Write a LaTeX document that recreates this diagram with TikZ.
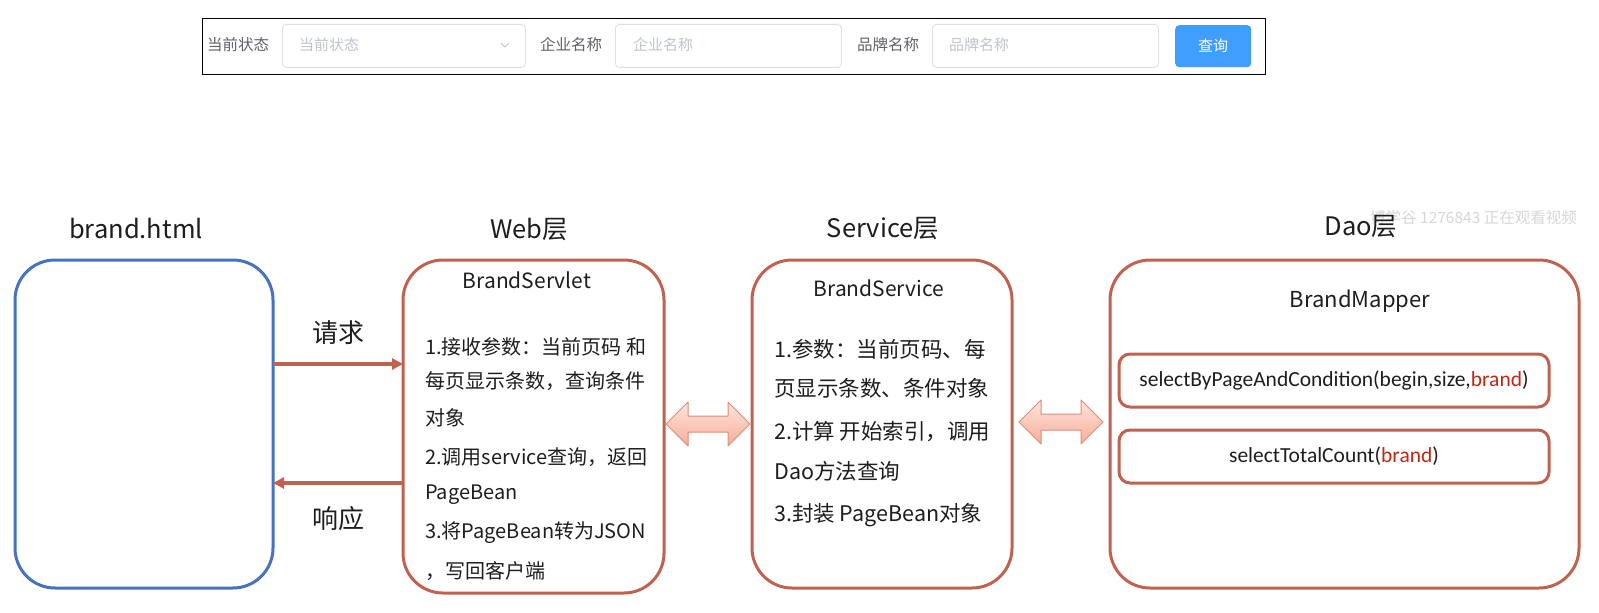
\documentclass[tikz,border=0pt]{standalone}
\usepackage{fontspec}
\setmainfont{Noto Sans CJK SC}
\newfontfamily\calibri{Carlito}
\usetikzlibrary{arrows.meta,calc}
\definecolor{boxred}{RGB}{192,98,80}
\definecolor{boxblue}{RGB}{70,114,190}
\definecolor{brandred}{RGB}{192,40,20}
\definecolor{lbl}{RGB}{96,98,102}
\definecolor{ph}{RGB}{192,196,204}
\definecolor{inborder}{RGB}{220,223,230}
\definecolor{btnblue}{RGB}{64,158,255}
\definecolor{arrfillA}{RGB}{255,230,222}
\definecolor{arrfillB}{RGB}{246,172,152}
\definecolor{arrline}{RGB}{222,140,120}
\definecolor{wm}{RGB}{215,215,215}
\definecolor{txt}{RGB}{30,30,30}
\newcommand{\fs}[1]{\fontsize{#1bp}{#1bp}\selectfont}
\begin{document}
\begin{tikzpicture}[x=1bp,y=-1bp,
  outerbox/.style={draw=boxred,line width=3bp,rounded corners=40bp,fill=white,minimum width=#1,anchor=north west,inner sep=0pt,outer sep=0pt},
  innerbox/.style={draw=boxred,line width=3bp,rounded corners=11bp,minimum width=430bp,minimum height=53bp,anchor=north west,inner sep=0pt,outer sep=0pt},
  title/.style={font=\fs{25.5},text=txt,inner sep=0pt},
  body/.style={font=\fs{20},text=txt,anchor=west,inner sep=0pt},
  sbody/.style={font=\fs{21.5},text=txt,anchor=west,inner sep=0pt},
  lab/.style={font=\fs{15.5},text=lbl,anchor=west,inner sep=0pt},
  phtext/.style={font=\fs{15},text=ph,anchor=west,inner sep=0pt},
  inputbox/.style={draw=inborder,line width=0.8bp,rounded corners=4bp,anchor=north west,minimum height=43bp,inner sep=0pt},
  conn/.style={draw=boxred,line width=3.5bp,-{Triangle[length=11bp,width=11bp]}},
  dblarrow/.style={draw=arrline,line width=1bp,top color=arrfillA,bottom color=arrfillB,line join=round},
  dbl/.pic={\path[dblarrow] (-42,0) -- ++(22,-22) -- ++(0,14) -- ++(40,0) -- ++(0,-14) -- ++(22,22) -- ++(-22,22) -- ++(0,-14) -- ++(-40,0) -- ++(0,14) -- cycle;}
]
\useasboundingbox (0,0) rectangle (1599,613);
\fill[white] (0,0) rectangle (1599,613);

% ---- search bar ----
\node[draw=black,line width=1.3bp,anchor=north west,minimum width=1063bp,minimum height=56bp,inner sep=0pt] (bar) at (202,18) {};
\node[lab] (l1) at (207,45) {当前状态};
\node[inputbox,minimum width=243bp] (in1) at (282,24) {};
\node[phtext] (p1) at (299,45) {当前状态};
\draw[draw=ph,line width=0.8bp] (501,43) -- (505,47) -- (509,43);
\node[lab] (l2) at (540,45) {企业名称};
\node[inputbox,minimum width=226bp] (in2) at (615,24) {};
\node[phtext] (p2) at (633,45) {企业名称};
\node[lab] (l3) at (857,45) {品牌名称};
\node[inputbox,minimum width=226bp] (in3) at (932,24) {};
\node[phtext] (p3) at (949,45) {品牌名称};
\node[fill=btnblue,rounded corners=4bp,anchor=north west,minimum width=76bp,minimum height=42bp,inner sep=0pt,text=white,font=\fs{15}] (btn) at (1175,25) {查询};

% ---- titles ----
\node[title] (t1) at (136,229) {brand.html};
\node[title] (t2) at (529,229) {Web层};
\node[title] (t3) at (883,229) {Service层};
\node[font=\fs{15.5},text=wm,anchor=west,inner sep=0pt] (wmk) at (1370,218) {博学谷 1276843 正在观看视频};
\node[title] (t4) at (1361,227) {Dao层};

% ---- boxes ----
\node[outerbox=258bp,draw=boxblue,minimum height=328bp] (html) at (15,260) {};
\node[outerbox=261bp,minimum height=333bp] (web) at (403,260) {};
\node[outerbox=260bp,minimum height=328bp] (svc) at (752,260) {};
\node[outerbox=469bp,minimum height=328bp] (dao) at (1110,260) {};

% ---- web text ----
\node[font=\fs{21},text=txt,inner sep=0pt] (servlet) at (527,280) {BrandServlet};
\node[body] (w1) at (425,347) {1.接收参数：当前页码 和};
\node[body] (w2) at (425,381) {每页显示条数，查询条件};
\node[body] (w3) at (425,418) {对象};
\node[body] (w4) at (425,457) {2.调用service查询，返回};
\node[body] (w5) at (425,495) {PageBean};
\node[body] (w6) at (425,533) {3.将PageBean转为JSON};
\node[body] (w7) at (425,571) {，写回客户端};

% ---- service text ----
\node[font=\fs{21},text=txt,inner sep=0pt] (bsvc) at (879,288) {BrandService};
\node[sbody] (s1) at (774,349) {1.参数：当前页码、每};
\node[sbody] (s2) at (774,388) {页显示条数、条件对象};
\node[sbody] (s3) at (774,432) {2.计算 开始索引，调用};
\node[sbody] (s4) at (774,471) {Dao方法查询};
\node[sbody] (s5) at (774,515) {3.封装 PageBean对象};

% ---- dao ----
\node[font=\fs{22},text=txt,inner sep=0pt] (mapper) at (1360,301) {BrandMapper};
\node[innerbox,font=\calibri\fs{21.5},text=txt] (m1) at (1119,354) {selectByPageAndCondition(begin,size,\textcolor{brandred}{brand})};
\node[innerbox,font=\calibri\fs{21.5},text=txt] (m2) at (1119,430) {selectTotalCount(\textcolor{brandred}{brand})};

% ---- connectors ----
\coordinate (reqy) at (0,364);
\coordinate (resy) at (0,483);
\draw[conn] (html.east |- reqy) -- (web.west |- reqy);
\draw[conn] (web.west |- resy) -- (html.east |- resy);
\node[font=\fs{26},text=txt,inner sep=0pt] (req) at (338,333) {请求};
\node[font=\fs{26},text=txt,inner sep=0pt] (res) at (338,519) {响应};

\coordinate (da1) at ($(web.east |- 0,424)!0.5!(svc.west |- 0,424)$);
\coordinate (da2) at ($(svc.east |- 0,422)!0.5!(dao.west |- 0,422)$);
\pic at (da1) {dbl};
\pic at (da2) {dbl};
\end{tikzpicture}
\end{document}
